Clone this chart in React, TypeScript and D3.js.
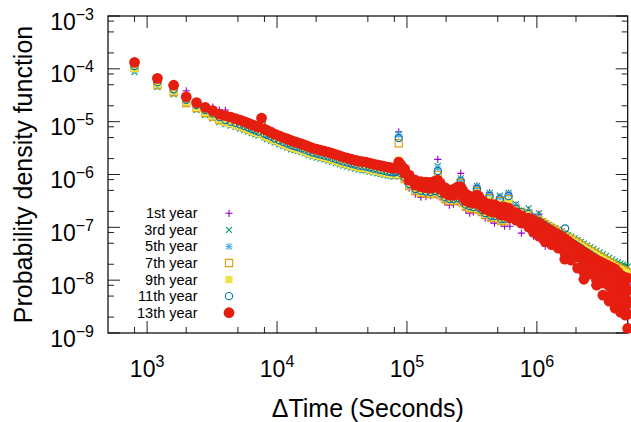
import * as d3 from 'd3';
import React, { useEffect, useRef } from 'react';

// Histogram bins (seconds between consecutive events), shared by every year
const binSeconds = [
  800, 1200, 1600, 2000, 2400, 2800, 3200, 3600, 4000, 4400,
  4800, 5200, 5600, 6000, 6400, 6800, 7200, 7600, 8000, 8400,
  9000, 9600, 10400, 11200, 12000, 12800, 13600, 14400, 15400, 16400,
  17600, 18800, 20200, 21600, 23200, 24800, 26600, 28400, 30400, 32400,
  34800, 37200, 39800, 42400, 45400, 48400, 51800, 55200, 59000, 62800,
  67000, 71200, 75200, 79200, 81600, 84000, 86400, 90000, 96000, 104000,
  116000, 128000, 140000, 152000, 164000, 172800, 180000, 196000, 212000, 228000,
  244000, 259200, 268000, 284000, 304000, 324000, 345600, 356000, 376000, 400000,
  432000, 444000, 472000, 518400, 532000, 564000, 604800, 620000, 691200, 760000,
  864000, 940000, 1036800, 1100000, 1160000, 1230000, 1300000, 1380000, 1460000, 1550000,
  1640000, 1740000, 1840000, 1950000, 2060000, 2180000, 2300000, 2440000, 2580000, 2730000,
  2880000, 3050000, 3220000, 3410000, 3600000, 3800000, 4000000, 4200000, 4400000, 4600000,
  4800000, 5000000
];

// Probability density per bin, one array per year
const pdf1stYear = [
  9.9e-5, 6.1e-5, 4.0e-5, 3.85e-5, 2.15e-5, 1.97e-5, 1.89e-5, 1.66e-5, 1.66e-5, 9.2e-6,
  8.45e-6, 7.9e-6, 7.4e-6, 6.95e-6, 6.5e-6, 6.15e-6, 5.8e-6, 7.25e-6, 5.4e-6, 5.0e-6,
  4.65e-6, 4.3e-6, 4.0e-6, 3.7e-6, 3.45e-6, 3.2e-6, 3.07e-6, 2.95e-6, 2.8e-6, 2.65e-6,
  2.48e-6, 2.33e-6, 2.23e-6, 2.13e-6, 2.04e-6, 1.95e-6, 1.85e-6, 1.75e-6, 1.66e-6, 1.57e-6,
  1.5e-6, 1.44e-6, 1.38e-6, 1.32e-6, 1.29e-6, 1.27e-6, 1.21e-6, 1.16e-6, 1.12e-6, 1.09e-6,
  1.05e-6, 1.02e-6, 9.95e-7, 9.7e-7, 9.8e-7, 9.95e-7, 6.45e-6, 8.9e-7, 7.5e-7, 5.5e-7,
  4.25e-7, 3.73e-7, 3.8e-7, 3.98e-7, 4.16e-7, 1.93e-6, 3.73e-7, 3.0e-7, 2.63e-7, 2.75e-7,
  3.0e-7, 1.05e-6, 2.63e-7, 2.12e-7, 1.86e-7, 1.94e-7, 6.1e-7, 1.98e-7, 1.7e-7, 1.49e-7,
  4.5e-7, 1.37e-7, 1.2e-7, 3.78e-7, 1.2e-7, 1.05e-7, 4.45e-7, 1.05e-7, 2.63e-7, 7.77e-8,
  2.12e-7, 6.82e-8, 1.78e-7, 5.25e-8, 4.41e-8, 4.7e-8, 5.02e-8, 5.1e-8, 5.25e-8, 5.0e-8,
  4.81e-8, 4.4e-8, 4.04e-8, 3.7e-8, 3.39e-8, 3.1e-8, 2.85e-8, 2.6e-8, 2.39e-8, 2.24e-8,
  2.1e-8, 1.92e-8, 1.76e-8, 1.61e-8, 1.48e-8, 1.35e-8, 1.24e-8, 1.13e-8, 1.04e-8, 9.8e-9,
  9.2e-9, 8.4e-9
];

const pdf3rdYear = [
  8.7e-5, 4.5e-5, 3.3e-5, 2.15e-5, 1.66e-5, 1.33e-5, 1.14e-5, 9.8e-6, 9.0e-6, 8.45e-6,
  7.9e-6, 7.4e-6, 6.9e-6, 6.5e-6, 6.1e-6, 5.75e-6, 5.45e-6, 6.6e-6, 5.05e-6, 4.7e-6,
  4.35e-6, 4.0e-6, 3.7e-6, 3.45e-6, 3.22e-6, 3.0e-6, 2.9e-6, 2.8e-6, 2.65e-6, 2.5e-6,
  2.33e-6, 2.18e-6, 2.09e-6, 2.0e-6, 1.91e-6, 1.83e-6, 1.73e-6, 1.64e-6, 1.55e-6, 1.47e-6,
  1.41e-6, 1.35e-6, 1.29e-6, 1.24e-6, 1.21e-6, 1.18e-6, 1.13e-6, 1.09e-6, 1.05e-6, 1.02e-6,
  9.85e-7, 9.5e-7, 9.3e-7, 9.1e-7, 9.3e-7, 9.5e-7, 5.8e-6, 1.04e-6, 8.7e-7, 6.45e-7,
  5.2e-7, 4.8e-7, 4.64e-7, 4.55e-7, 4.75e-7, 1.46e-6, 4.35e-7, 3.65e-7, 3.35e-7, 3.35e-7,
  3.5e-7, 8.44e-7, 3.07e-7, 2.63e-7, 2.47e-7, 2.36e-7, 6.1e-7, 2.31e-7, 2.07e-7, 1.82e-7,
  4.5e-7, 1.63e-7, 1.6e-7, 4.0e-7, 1.4e-7, 1.4e-7, 4.5e-7, 2.63e-7, 2.75e-7, 2.03e-7,
  2.28e-7, 1.56e-7, 1.83e-7, 1.27e-7, 1.2e-7, 1.11e-7, 1.03e-7, 9.65e-8, 9.05e-8, 8.4e-8,
  7.77e-8, 7.2e-8, 6.7e-8, 6.2e-8, 5.73e-8, 5.3e-8, 4.9e-8, 4.55e-8, 4.22e-8, 3.9e-8,
  3.62e-8, 3.35e-8, 3.11e-8, 2.88e-8, 2.67e-8, 2.47e-8, 2.29e-8, 2.17e-8, 2.05e-8, 1.96e-8,
  1.88e-8, 1.8e-8
];

const pdf5thYear = [
  9.5e-5, 4.7e-5, 3.5e-5, 2.3e-5, 1.77e-5, 1.42e-5, 1.22e-5, 1.05e-5, 9.4e-6, 8.85e-6,
  8.3e-6, 7.75e-6, 7.25e-6, 6.8e-6, 6.35e-6, 6.0e-6, 5.7e-6, 7.6e-6, 5.3e-6, 4.9e-6,
  4.55e-6, 4.2e-6, 3.9e-6, 3.6e-6, 3.37e-6, 3.15e-6, 3.02e-6, 2.9e-6, 2.75e-6, 2.6e-6,
  2.43e-6, 2.28e-6, 2.18e-6, 2.09e-6, 2.0e-6, 1.91e-6, 1.81e-6, 1.72e-6, 1.63e-6, 1.54e-6,
  1.47e-6, 1.41e-6, 1.35e-6, 1.29e-6, 1.26e-6, 1.24e-6, 1.18e-6, 1.13e-6, 1.09e-6, 1.06e-6,
  1.03e-6, 9.95e-7, 9.7e-7, 9.5e-7, 9.8e-7, 1.02e-6, 5.6e-6, 1.06e-6, 8.9e-7, 6.6e-7,
  5.3e-7, 4.9e-7, 4.75e-7, 4.64e-7, 4.85e-7, 1.32e-6, 4.45e-7, 3.73e-7, 3.42e-7, 3.42e-7,
  3.57e-7, 7.8e-7, 3.14e-7, 2.69e-7, 2.52e-7, 2.41e-7, 5.78e-7, 2.36e-7, 2.12e-7, 1.86e-7,
  4.25e-7, 1.66e-7, 1.63e-7, 3.73e-7, 1.43e-7, 1.43e-7, 4.25e-7, 2.41e-7, 2.52e-7, 2.12e-7,
  1.94e-7, 1.6e-7, 1.37e-7, 1.24e-7, 1.12e-7, 1.03e-7, 9.45e-8, 8.65e-8, 7.95e-8, 7.25e-8,
  6.6e-8, 6.0e-8, 5.48e-8, 5.0e-8, 4.6e-8, 4.2e-8, 3.86e-8, 3.5e-8, 3.18e-8, 2.91e-8,
  2.67e-8, 2.45e-8, 2.24e-8, 2.05e-8, 1.88e-8, 1.73e-8, 1.59e-8, 1.47e-8, 1.36e-8, 1.27e-8,
  1.19e-8, 1.11e-8
];

const pdf7thYear = [
  1.04e-4, 4.9e-5, 3.6e-5, 2.25e-5, 1.8e-5, 1.46e-5, 1.25e-5, 1.07e-5, 1.0e-5, 9.4e-6,
  8.8e-6, 8.25e-6, 7.75e-6, 7.25e-6, 6.8e-6, 6.45e-6, 6.1e-6, 8.3e-6, 5.6e-6, 5.2e-6,
  4.85e-6, 4.5e-6, 4.15e-6, 3.85e-6, 3.6e-6, 3.35e-6, 3.22e-6, 3.1e-6, 2.95e-6, 2.8e-6,
  2.6e-6, 2.43e-6, 2.33e-6, 2.23e-6, 2.13e-6, 2.04e-6, 1.93e-6, 1.83e-6, 1.73e-6, 1.64e-6,
  1.57e-6, 1.5e-6, 1.44e-6, 1.38e-6, 1.35e-6, 1.32e-6, 1.26e-6, 1.21e-6, 1.17e-6, 1.13e-6,
  1.09e-6, 1.06e-6, 1.04e-6, 1.02e-6, 1.03e-6, 1.06e-6, 3.9e-6, 9.74e-7, 8.2e-7, 6.0e-7,
  4.85e-7, 4.5e-7, 4.35e-7, 4.25e-7, 4.45e-7, 9.74e-7, 4.07e-7, 3.42e-7, 3.14e-7, 3.14e-7,
  3.27e-7, 6.9e-7, 2.87e-7, 2.47e-7, 2.31e-7, 2.21e-7, 4.85e-7, 2.16e-7, 1.94e-7, 1.7e-7,
  3.57e-7, 1.53e-7, 1.49e-7, 3.14e-7, 1.31e-7, 1.31e-7, 3.42e-7, 2.12e-7, 2.21e-7, 1.94e-7,
  1.78e-7, 1.49e-7, 1.37e-7, 1.26e-7, 1.15e-7, 1.05e-7, 9.67e-8, 8.95e-8, 8.3e-8, 7.6e-8,
  6.97e-8, 6.4e-8, 5.9e-8, 5.45e-8, 5.02e-8, 4.62e-8, 4.26e-8, 3.9e-8, 3.58e-8, 3.3e-8,
  3.04e-8, 2.82e-8, 2.61e-8, 2.39e-8, 2.19e-8, 2.02e-8, 1.87e-8, 1.75e-8, 1.64e-8, 1.55e-8,
  1.46e-8, 1.39e-8
];

const pdf9thYear = [
  1.01e-4, 5.2e-5, 3.8e-5, 2.35e-5, 1.85e-5, 1.49e-5, 1.28e-5, 1.1e-5, 9.8e-6, 9.2e-6,
  8.6e-6, 8.1e-6, 7.6e-6, 7.1e-6, 6.6e-6, 6.25e-6, 5.95e-6, 9.0e-6, 5.4e-6, 5.1e-6,
  4.75e-6, 4.4e-6, 4.05e-6, 3.75e-6, 3.52e-6, 3.3e-6, 3.15e-6, 3.0e-6, 2.85e-6, 2.7e-6,
  2.53e-6, 2.38e-6, 2.28e-6, 2.18e-6, 2.09e-6, 2.0e-6, 1.89e-6, 1.79e-6, 1.7e-6, 1.61e-6,
  1.54e-6, 1.47e-6, 1.41e-6, 1.35e-6, 1.32e-6, 1.29e-6, 1.23e-6, 1.18e-6, 1.14e-6, 1.11e-6,
  1.07e-6, 1.04e-6, 1.02e-6, 9.95e-7, 1.01e-6, 1.04e-6, 1.87e-6, 1.02e-6, 8.55e-7, 6.3e-7,
  5.07e-7, 4.7e-7, 4.55e-7, 4.45e-7, 4.64e-7, 7.8e-7, 4.25e-7, 3.57e-7, 3.27e-7, 3.27e-7,
  3.42e-7, 6.0e-7, 3.0e-7, 2.57e-7, 2.41e-7, 2.31e-7, 4.45e-7, 2.26e-7, 2.03e-7, 1.78e-7,
  3.27e-7, 1.6e-7, 1.56e-7, 2.75e-7, 1.37e-7, 1.37e-7, 3.0e-7, 2.12e-7, 2.12e-7, 1.94e-7,
  1.78e-7, 1.49e-7, 1.37e-7, 1.23e-7, 1.1e-7, 1.01e-7, 9.25e-8, 8.6e-8, 7.95e-8, 7.3e-8,
  6.7e-8, 6.15e-8, 5.65e-8, 5.2e-8, 4.81e-8, 4.42e-8, 4.07e-8, 3.74e-8, 3.43e-8, 3.15e-8,
  2.9e-8, 2.69e-8, 2.5e-8, 2.29e-8, 2.1e-8, 1.94e-8, 1.79e-8, 1.68e-8, 1.57e-8, 1.48e-8,
  1.4e-8, 1.33e-8
];

const pdf11thYear = [
  1.13e-4, 5.6e-5, 4.1e-5, 2.6e-5, 2.06e-5, 1.66e-5, 1.42e-5, 1.22e-5, 1.07e-5, 1.0e-5,
  9.4e-6, 8.85e-6, 8.3e-6, 7.75e-6, 7.25e-6, 6.85e-6, 6.5e-6, 9.8e-6, 5.9e-6, 5.6e-6,
  5.2e-6, 4.8e-6, 4.45e-6, 4.1e-6, 3.85e-6, 3.6e-6, 3.45e-6, 3.3e-6, 3.12e-6, 2.95e-6,
  2.77e-6, 2.6e-6, 2.49e-6, 2.38e-6, 2.28e-6, 2.18e-6, 2.06e-6, 1.95e-6, 1.85e-6, 1.75e-6,
  1.68e-6, 1.61e-6, 1.54e-6, 1.47e-6, 1.44e-6, 1.41e-6, 1.35e-6, 1.29e-6, 1.25e-6, 1.21e-6,
  1.17e-6, 1.13e-6, 1.11e-6, 1.09e-6, 1.12e-6, 1.16e-6, 4.9e-6, 1.06e-6, 8.9e-7, 6.6e-7,
  5.3e-7, 4.9e-7, 4.75e-7, 4.64e-7, 4.85e-7, 1.16e-6, 4.45e-7, 3.73e-7, 3.42e-7, 3.42e-7,
  3.57e-7, 7.5e-7, 3.14e-7, 2.69e-7, 2.52e-7, 2.41e-7, 5.3e-7, 2.36e-7, 2.12e-7, 1.86e-7,
  3.9e-7, 1.66e-7, 1.63e-7, 3.42e-7, 1.43e-7, 1.43e-7, 3.9e-7, 2.31e-7, 2.21e-7, 1.94e-7,
  1.78e-7, 1.53e-7, 1.32e-7, 1.2e-7, 1.09e-7, 9.95e-8, 9.1e-8, 8.3e-8, 7.6e-8, 6.9e-8,
  6.3e-8, 5.75e-8, 5.25e-8, 4.8e-8, 4.4e-8, 4.02e-8, 3.67e-8, 3.35e-8, 3.06e-8, 2.8e-8,
  2.56e-8, 2.35e-8, 2.15e-8, 1.97e-8, 1.8e-8, 1.65e-8, 1.52e-8, 1.41e-8, 1.31e-8, 1.22e-8,
  1.13e-8, 1.07e-8
];

const pdf13thYear = [
  1.33e-4, 6.6e-5, 4.9e-5, 2.96e-5, 2.3e-5, 1.87e-5, 1.61e-5, 1.39e-5, 1.3e-5, 1.22e-5,
  1.14e-5, 1.07e-5, 1.0e-5, 9.4e-6, 8.8e-6, 8.35e-6, 7.9e-6, 1.17e-5, 7.2e-6, 6.8e-6,
  6.3e-6, 5.8e-6, 5.4e-6, 5.0e-6, 4.7e-6, 4.4e-6, 4.2e-6, 4.0e-6, 3.8e-6, 3.6e-6,
  3.37e-6, 3.15e-6, 3.02e-6, 2.9e-6, 2.77e-6, 2.65e-6, 2.51e-6, 2.38e-6, 2.26e-6, 2.14e-6,
  2.05e-6, 1.96e-6, 1.87e-6, 1.79e-6, 1.75e-6, 1.72e-6, 1.64e-6, 1.57e-6, 1.52e-6, 1.47e-6,
  1.42e-6, 1.38e-6, 1.35e-6, 1.32e-6, 1.34e-6, 1.38e-6, 1.72e-6, 1.51e-6, 1.27e-6, 9.74e-7,
  7.8e-7, 7.3e-7, 7.2e-7, 7.1e-7, 7.5e-7, 7.8e-7, 6.9e-7, 5.65e-7, 5.07e-7, 5.2e-7,
  5.78e-7, 5.85e-7, 5.07e-7, 4.25e-7, 3.9e-7, 3.78e-7, 4.07e-7, 3.9e-7, 3.27e-7, 2.87e-7,
  2.75e-7, 2.63e-7, 2.69e-7, 2.41e-7, 2.28e-7, 2.41e-7, 2.31e-7, 2.16e-7, 1.9e-7, 1.66e-7,
  1.49e-7, 1.37e-7, 1.2e-7, 1.09e-7, 9.9e-8, 9.15e-8, 8.48e-8, 7.87e-8, 7.3e-8, 6.67e-8,
  6.1e-8, 5.47e-8, 4.9e-8, 4.45e-8, 4.04e-8, 3.7e-8, 3.39e-8, 3.08e-8, 2.8e-8, 2.59e-8,
  2.39e-8, 2.24e-8, 2.1e-8, 1.97e-8, 1.84e-8, 1.73e-8, 1.62e-8, 1.42e-8, 1.24e-8, 1.17e-8,
  1.11e-8, 1.09e-8
];

// 13th year: extra points in the same bins, where the band spreads out
const pdf13thSpread: [number, number][] = [
  [90000, 1.27e-6], [96000, 1.06e-6], [104000, 7.8e-7], [116000, 6.3e-7], [128000, 5.85e-7],
  [140000, 5.65e-7], [152000, 5.5e-7], [164000, 5.78e-7], [172800, 5.78e-7], [180000, 5.3e-7],
  [196000, 4.45e-7], [212000, 4.07e-7], [228000, 4.07e-7], [244000, 4.25e-7], [259200, 4.25e-7],
  [268000, 3.73e-7], [284000, 3.2e-7], [304000, 3.0e-7], [324000, 2.87e-7], [345600, 2.93e-7],
  [356000, 2.81e-7], [376000, 2.52e-7], [400000, 2.21e-7], [432000, 2.07e-7], [444000, 1.98e-7],
  [472000, 1.94e-7], [518400, 1.78e-7], [532000, 1.7e-7], [564000, 1.7e-7], [604800, 1.6e-7],
  [620000, 1.52e-7], [691200, 1.37e-7], [760000, 1.2e-7], [864000, 1.01e-7],
  [940000, 1.05e-7], [940000, 8.12e-8], [1036800, 9.05e-8], [1036800, 6.82e-8],
  [1160000, 7.3e-8], [1160000, 5.35e-8], [1300000, 6.4e-8], [1300000, 4.7e-8],
  [1460000, 5.48e-8], [1460000, 4.04e-8], [1640000, 4.5e-8], [1640000, 3.32e-8], [1640000, 2.5e-8],
  [1840000, 3.47e-8], [1840000, 2.39e-8], [2060000, 2.73e-8], [2060000, 1.69e-8],
  [2300000, 2.19e-8], [2300000, 1.42e-8], [2300000, 1.04e-8], [2580000, 1.92e-8], [2580000, 1.3e-8],
  [2880000, 1.55e-8], [2880000, 1.0e-8], [2880000, 8.05e-9],
  [3220000, 1.36e-8], [3220000, 8.8e-9], [3220000, 5.2e-9],
  [3600000, 1.19e-8], [3600000, 7.7e-9], [3600000, 4.98e-9], [3600000, 4.0e-9],
  [4000000, 1.04e-8], [4000000, 6.75e-9], [4000000, 4.37e-9], [4000000, 2.95e-9],
  [4400000, 8.05e-9], [4400000, 5.2e-9], [4400000, 3.36e-9], [4400000, 2.48e-9],
  [4800000, 7.35e-9], [4800000, 4.76e-9], [4800000, 3.08e-9], [4800000, 2.17e-9],
  [5000000, 6.47e-9], [5000000, 3.83e-9], [5000000, 2.27e-9], [5000000, 1.22e-9]
];

// 11th year: lone point above the band
const pdf11thOutliers: [number, number][] = [[1650000, 9.5e-8]];

const yearLabels = ['1st year', '3rd year', '5th year', '7th year', '9th year', '11th year', '13th year'];
const xTickExponents = [3, 4, 5, 6];
const yTickExponents = [-9, -8, -7, -6, -5, -4, -3];
const minorMantissas = [2, 5, 8];

type Marker = 'plus' | 'cross' | 'star' | 'boxOpen' | 'boxFilled' | 'circleOpen' | 'circleFilled';

const yearStyles: { color: string; marker: Marker }[] = [
  { color: '#9400d3', marker: 'plus' },
  { color: '#009e73', marker: 'cross' },
  { color: '#56b4e9', marker: 'star' },
  { color: '#e69f00', marker: 'boxOpen' },
  { color: '#f0e442', marker: 'boxFilled' },
  { color: '#0072b2', marker: 'circleOpen' },
  { color: '#e51e10', marker: 'circleFilled' }
];

const FONT = '"Liberation Sans", Arial, Helvetica, sans-serif';

function markerPath(marker: Marker) {
  const circle = (r: number) => `M${r},0A${r},${r} 0 1,1 ${-r},0A${r},${r} 0 1,1 ${r},0Z`;
  switch (marker) {
    case 'plus':
      return 'M-3.6,0H3.6M0,-3.6V3.6';
    case 'cross':
      return 'M-3,-3L3,3M-3,3L3,-3';
    case 'star':
      return 'M-3.6,0H3.6M0,-3.6V3.6M-2.8,-2.8L2.8,2.8M-2.8,2.8L2.8,-2.8';
    case 'boxOpen':
    case 'boxFilled':
      return 'M-3.6,-3.6H3.6V3.6H-3.6Z';
    case 'circleOpen':
      return circle(3.6);
    default:
      return circle(5.4);
  }
}

function styleMarker(sel: any, style: { color: string; marker: Marker }) {
  const filled = style.marker === 'boxFilled' || style.marker === 'circleFilled';
  sel
    .attr('d', markerPath(style.marker))
    .attr('fill', filled ? style.color : 'none')
    .attr('stroke', filled ? 'none' : style.color)
    .attr('stroke-width', 1.1);
}

export default function App() {
  const svgRef = useRef<SVGSVGElement | null>(null);

  useEffect(() => {
    const width = 631;
    const height = 422;
    const plot = { left: 108, right: 627.7, top: 16, bottom: 333 };

    const svg = d3.select(svgRef.current).attr('width', width).attr('height', height);
    svg.selectAll('*').remove();

    const x = d3.scaleLog().domain([500, 5e6]).range([plot.left, plot.right]);
    const y = d3.scaleLog().domain([1e-9, 1e-3]).range([plot.bottom, plot.top]);

    const xMajor = xTickExponents.map((e) => Math.pow(10, e));
    const yMajor = yTickExponents.map((e) => Math.pow(10, e));
    const xMinor: number[] = [];
    for (let e = 2; e <= 6; e++) minorMantissas.forEach((m) => xMinor.push(m * Math.pow(10, e)));
    const yMinor: number[] = [];
    for (let e = -9; e <= -4; e++) minorMantissas.forEach((m) => yMinor.push(m * Math.pow(10, e)));
    const inX = (v: number) => v > 500 && v < 5e6;

    // Ticks on all four sides, pointing inward
    const ticks = svg.append('g').attr('stroke', '#222').attr('stroke-width', 1);
    const addXTicks = (vals: number[], len: number) => {
      vals.filter(inX).forEach((v) => {
        ticks.append('line').attr('x1', x(v)).attr('x2', x(v)).attr('y1', plot.bottom).attr('y2', plot.bottom - len);
        ticks.append('line').attr('x1', x(v)).attr('x2', x(v)).attr('y1', plot.top).attr('y2', plot.top + len);
      });
    };
    const addYTicks = (vals: number[], len: number) => {
      vals.forEach((v) => {
        ticks.append('line').attr('y1', y(v)).attr('y2', y(v)).attr('x1', plot.left).attr('x2', plot.left + len);
        ticks.append('line').attr('y1', y(v)).attr('y2', y(v)).attr('x1', plot.right).attr('x2', plot.right - len);
      });
    };
    addXTicks(xMajor, 12);
    addXTicks(xMinor, 6);
    addYTicks(yMajor, 12);
    addYTicks(yMinor, 6);

    svg
      .append('rect')
      .attr('x', plot.left)
      .attr('y', plot.top)
      .attr('width', plot.right - plot.left)
      .attr('height', plot.bottom - plot.top)
      .attr('fill', 'none')
      .attr('stroke', '#000')
      .attr('stroke-width', 1.2);

    // Tick labels with superscript exponents
    const labels = svg.append('g').attr('font-family', FONT).attr('fill', '#000');
    xTickExponents.forEach((e) => {
      const t = labels
        .append('text')
        .attr('x', x(Math.pow(10, e)))
        .attr('y', 376.5)
        .attr('text-anchor', 'middle')
        .attr('font-size', 23);
      t.append('tspan').text('10');
      t.append('tspan').attr('font-size', 16).attr('dy', -10).text(String(e));
    });
    yTickExponents.forEach((e) => {
      const t = labels
        .append('text')
        .attr('x', 94)
        .attr('y', y(Math.pow(10, e)) + 13.5)
        .attr('text-anchor', 'end')
        .attr('font-size', 23);
      t.append('tspan').text('10');
      t.append('tspan').attr('font-size', 16).attr('dy', -10).text('\u2212' + Math.abs(e));
    });

    // Axis titles
    labels
      .append('text')
      .attr('x', (plot.left + plot.right) / 2)
      .attr('y', 416.5)
      .attr('text-anchor', 'middle')
      .attr('font-size', 25)
      .text('\u0394Time (Seconds)');
    labels
      .append('text')
      .attr('transform', `translate(31.5,${(plot.top + plot.bottom) / 2}) rotate(-90)`)
      .attr('text-anchor', 'middle')
      .attr('font-size', 25)
      .text('Probability density function');

    // Scatter points, earlier years first so the 13th year sits on top
    const yearValues = [pdf1stYear, pdf3rdYear, pdf5thYear, pdf7thYear, pdf9thYear, pdf11thYear, pdf13thYear];
    const marks = svg.append('g');
    yearValues.forEach((vals, i) => {
      let pts: [number, number][] = binSeconds.map((s, j) => [s, vals[j]] as [number, number]);
      if (i === 5) pts = pts.concat(pdf11thOutliers);
      if (i === 6) pts = pts.concat(pdf13thSpread);
      marks
        .append('g')
        .selectAll('path')
        .data(pts.filter((d) => d[1] != null))
        .join('path')
        .attr('transform', (d) => `translate(${x(d[0])},${y(d[1])})`)
        .call(styleMarker, yearStyles[i]);
    });

    // Legend
    const legend = svg.append('g').attr('font-family', FONT);
    yearLabels.forEach((label, i) => {
      const rowY = 213.3 + i * 16.57;
      legend
        .append('text')
        .attr('x', 197.5)
        .attr('y', rowY + 5)
        .attr('text-anchor', 'end')
        .attr('font-size', 14.5)
        .text(label);
      legend
        .append('path')
        .attr('transform', `translate(229,${rowY})`)
        .call(styleMarker, yearStyles[i]);
    });
  }, []);

  return (
    <div style={{ position: 'absolute', left: 0, top: 0, background: '#fff' }}>
      <svg ref={svgRef} />
    </div>
  );
}
